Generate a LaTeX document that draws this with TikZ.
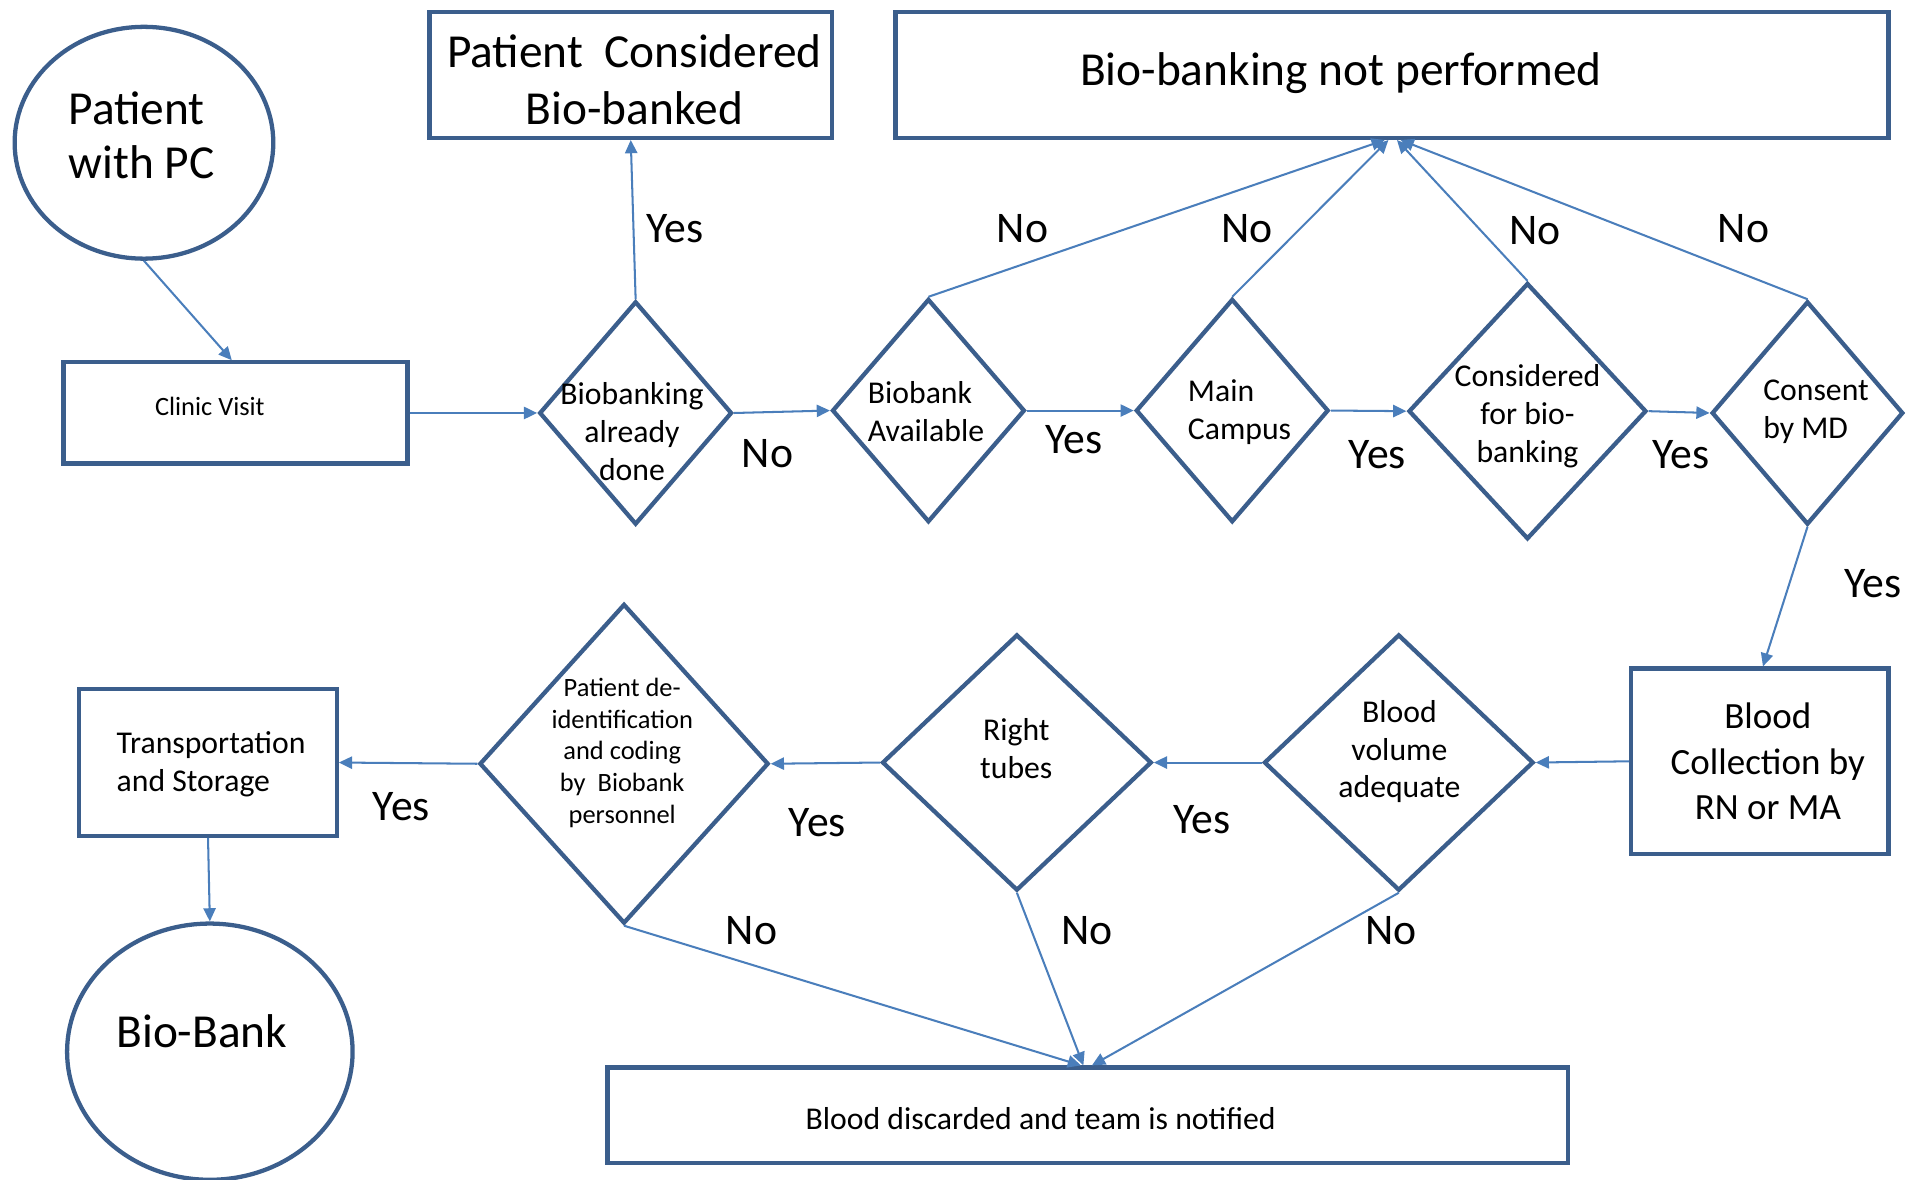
\documentclass[tikz,border=0pt]{standalone}
\usepackage{fontspec}
\setmainfont{Carlito}
\usetikzlibrary{shapes.geometric,arrows.meta,calc}
\definecolor{boxc}{HTML}{3B5E8C}
\definecolor{linec}{HTML}{4A7EBB}
\begin{document}
\begin{tikzpicture}[x=0.6pt,y=-0.6pt,
 box/.style 2 args={draw=boxc, line width=2.1pt, rectangle, minimum width=#1*0.6pt, minimum height=#2*0.6pt, inner sep=0pt},
 ell/.style 2 args={draw=boxc, line width=2.1pt, ellipse, minimum width=#1*0.6pt, minimum height=#2*0.6pt, inner sep=0pt},
 dia/.style 2 args={draw=boxc, line width=2.1pt, diamond, minimum width=#1*0.6pt, minimum height=#2*0.6pt, inner sep=0pt},
 big/.style={font=\fontsize{23.3}{28.2}\selectfont, align=center, inner sep=0pt},
 med/.style={font=\fontsize{15.6}{18.6}\selectfont, align=center, inner sep=0pt},
 medl/.style={font=\fontsize{15.6}{18.6}\selectfont, align=left, inner sep=0pt},
 sml/.style={font=\fontsize{13}{15.6}\selectfont, align=center, inner sep=0pt},
 bcf/.style={font=\fontsize{18.2}{22.2}\selectfont, align=center, inner sep=0pt},
 lab/.style={font=\fontsize{21.5}{24}\selectfont, inner sep=0pt},
 conn/.style={draw=linec, line width=1pt, -{Triangle[length=6.5pt,width=6pt]}}
]
\useasboundingbox (0,0) rectangle (1568,967);

% shapes
\node[ell={212}{190}] (pat) at (118,117) {};
\node[box={330}{103}] (pcb) at (517,61.5) {};
\node[box={814}{103}] (bnp) at (1141,61.5) {};
\node[box={282}{83}] (cv) at (193,338.5) {};
\node[dia={158}{183}] (d1) at (521,338.5) {};
\node[dia={158}{183}] (d2) at (761,336.5) {};
\node[dia={158}{183}] (d3) at (1010,336.5) {};
\node[dia={195}{210}] (d4) at (1252,337) {};
\node[dia={157}{183}] (d5) at (1481.5,338.5) {};
\node[box={211}{152}] (bc) at (1442.5,624) {};
\node[dia={221}{210}] (bv) at (1146.5,625) {};
\node[dia={221}{210}] (rt) at (833.5,625) {};
\node[dia={237}{262}] (pd) at (511.5,626) {};
\node[box={211}{120}] (ts) at (170.5,625) {};
\node[ell={234}{210}] (bb) at (172,862) {};
\node[box={787}{78}] (bd) at (891.5,914) {};

% texts
\node[big, align=left, font=\fontsize{23.3}{26.4}\selectfont] (tpat) at (116,111) {Patient\\with PC};
\node[big] (tpcb) at (520,65.5) {Patient\ \ Considered\\Bio-banked};
\node[big] (tbnp) at (1099,60) {Bio-banking not performed};
\node[sml] (tcv) at (172,333) {Clinic Visit};
\node[med] (td1) at (518,354) {Biobanking\\already\\done};
\node[medl] (td2) at (759,337.5) {Biobank\\Available};
\node[medl] (td3) at (1016,337.5) {Main\\Campus};
\node[med] (td4) at (1252,341) {Considered\\for bio-\\banking};
\node[medl] (td5) at (1488.5,337.5) {Consent\\by MD};
\node[bcf] (tbc) at (1449,624) {Blood\\Collection by\\RN or MA};
\node[med] (tbv) at (1147,616) {Blood\\volume\\adequate};
\node[med] (trt) at (833,613.5) {Right\\tubes};
\node[sml] (tpd) at (510,617) {Patient de-\\identification\\and coding\\by\ \ Biobank\\personnel};
\node[medl] (tts) at (173,626.5) {Transportation\\and Storage};
\node[big] (tbb) at (165.5,845) {Bio-Bank};
\node[med] (tbd) at (853,917) {Blood discarded and team is notified};

% connectors
\draw[conn] (pat.south) -- ([xshift=-1.8pt]cv.north);
\draw[conn] (cv.east) -- (d1.west);
\draw[conn] (d1.north) -- (pcb.south);
\draw[conn] (d1.east) -- (d2.west);
\draw[conn] (d2.east) -- (d3.west);
\draw[conn] (d3.east) -- (d4.west);
\draw[conn] (d4.east) -- (d5.west);
\draw[conn] (d2.north) -- ([xshift=-3.6pt]bnp.south);
\draw[conn] (d3.north) -- ([xshift=-1.8pt]bnp.south);
\draw[conn] (d4.north) -- ([xshift=2.4pt]bnp.south);
\draw[conn] (d5.north) -- ([xshift=4.2pt]bnp.south);
\draw[conn] (d5.south) -- ([xshift=1.5pt]bc.north);
\draw[conn] (bc.west) -- (bv.east);
\draw[conn] (bv.west) -- (rt.east);
\draw[conn] (rt.west) -- (pd.east);
\draw[conn] (pd.west) -- (ts.east);
\draw[conn] (ts.south) -- (bb.north);
\draw[conn] (pd.south) -- ([xshift=-3.3pt]bd.north);
\draw[conn] (rt.south) -- ([xshift=-2.1pt]bd.north);
\draw[conn] (bv.south) -- ([xshift=2.1pt]bd.north);

% labels
\node[lab] (y1) at (553,187) {Yes};
\node[lab] (n1) at (629,372) {No};
\node[lab] (n2) at (838,187) {No};
\node[lab] (n3) at (1022,187) {No};
\node[lab] (n4) at (1258,189) {No};
\node[lab] (n5) at (1429,187) {No};
\node[lab] (y2) at (880,360) {Yes};
\node[lab] (y3) at (1129,373) {Yes};
\node[lab] (y4) at (1378,373) {Yes};
\node[lab] (y5) at (1535,478) {Yes};
\node[lab] (y6) at (329,661) {Yes};
\node[lab] (y7) at (670,674) {Yes};
\node[lab] (y8) at (985,672) {Yes};
\node[lab] (n6) at (616,763) {No};
\node[lab] (n7) at (891,763) {No};
\node[lab] (n8) at (1140,763) {No};
\end{tikzpicture}
\end{document}
